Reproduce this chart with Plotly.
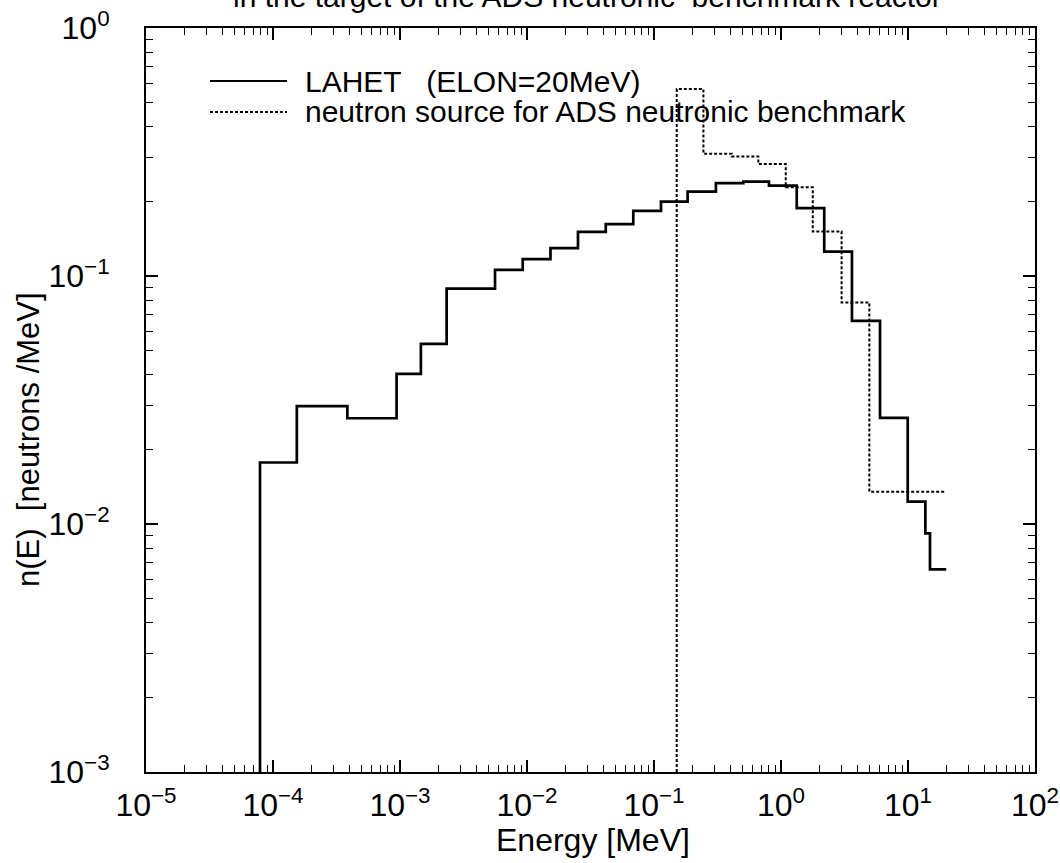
import plotly.graph_objects as go

# LAHET (ELON=20MeV) spectrum: bin edges [MeV] and bin contents [neutrons/MeV]
lahet_edges = [7.9e-5, 1.54e-4, 3.85e-4, 9.4e-4, 1.46e-3, 2.33e-3, 5.6e-3, 9.25e-3,
               1.53e-2, 2.52e-2, 4.17e-2, 6.87e-2, 0.1135, 0.184, 0.307, 0.505,
               0.804, 1.33, 2.19, 3.62, 6.02, 9.95, 13.7, 14.9, 20.0]
lahet_values = [0.0177, 0.0299, 0.0267, 0.0403, 0.0532, 0.089, 0.1058, 0.117,
                0.1295, 0.1507, 0.1618, 0.1832, 0.1996, 0.219, 0.2368, 0.2404,
                0.2316, 0.1877, 0.1254, 0.0659, 0.0268, 0.0123, 0.00917, 0.00656]

# Neutron source for the ADS neutronic benchmark
src_edges = [0.151, 0.245, 0.409, 0.663, 1.09, 1.78, 3.0, 4.96, 20.0]
src_values = [0.567, 0.311, 0.303, 0.2826, 0.228, 0.151, 0.0781, 0.01349]

y_floor = 1e-3  # histograms rise from the lower edge of the frame

x_tick_exp = [-5, -4, -3, -2, -1, 0, 1, 2]
y_tick_exp = [-3, -2, -1, 0]


def step_path(edges, values, floor):
    xs = [edges[0]]
    ys = [floor]
    for i, v in enumerate(values):
        xs += [edges[i], edges[i + 1]]
        ys += [v, v]
    return xs, ys


def power_label(e):
    sign = "\u2212" if e < 0 else ""
    return f"10<sup>{sign}{abs(e)}</sup>"


FONT = "Liberation Sans, Arial, sans-serif"

lx, ly = step_path(lahet_edges, lahet_values, y_floor)
sx, sy = step_path(src_edges, src_values, y_floor)

fig = go.Figure()
fig.add_trace(go.Scatter(x=lx, y=ly, mode="lines", name="LAHET   (ELON=20MeV)",
                         line=dict(color="black", width=2.7), showlegend=False))
fig.add_trace(go.Scatter(x=sx, y=sy, mode="lines",
                         name="neutron source for ADS neutronic benchmark",
                         line=dict(color="black", width=2, dash="3px,2px"),
                         showlegend=False))

W, H = 1060, 863
L, R, T, B = 146, 25, 28, 91
pw, ph = W - L - R, H - T - B


def px(x):
    return (x - L) / pw


def py(y):
    return (H - B - y) / ph


# legend drawn in the upper-left corner of the frame
fig.add_shape(type="line", xref="paper", yref="paper", x0=px(210), x1=px(287),
              y0=py(81), y1=py(81), line=dict(color="black", width=2.2))
fig.add_shape(type="line", xref="paper", yref="paper", x0=px(210), x1=px(287),
              y0=py(112), y1=py(112), line=dict(color="black", width=2, dash="3px,2px"))
fig.add_annotation(xref="paper", yref="paper", x=px(303), y=py(81), xanchor="left",
                   yanchor="middle", text="LAHET   (ELON=20MeV)", showarrow=False,
                   font=dict(family=FONT, size=30, color="black"))
fig.add_annotation(xref="paper", yref="paper", x=px(303), y=py(111), xanchor="left",
                   yanchor="middle", text="neutron source for ADS neutronic benchmark",
                   showarrow=False, font=dict(family=FONT, size=30, color="black"))

# title line running off the top edge
fig.add_annotation(xref="paper", yref="paper", x=px(587), y=py(-4), xanchor="center",
                   yanchor="middle", text="in the target of the ADS neutronic  benchmark reactor",
                   showarrow=False, font=dict(family=FONT, size=30, color="black"))

# axis titles
fig.add_annotation(xref="paper", yref="paper", x=px(593), y=py(840), xanchor="center",
                   yanchor="middle", text="Energy [MeV]", showarrow=False,
                   font=dict(family=FONT, size=32, color="black"))
fig.add_annotation(xref="paper", yref="paper", x=px(29), y=py(440), xanchor="center",
                   yanchor="middle", text="n(E)  [neutrons /MeV]", textangle=-90,
                   showarrow=False, font=dict(family=FONT, size=31, color="black"))

axis_common = dict(
    type="log", showgrid=False, zeroline=False, showline=True, linecolor="black",
    linewidth=2, mirror="ticks", ticks="inside", ticklen=12, tickwidth=1.5,
    tickcolor="black",
    tickfont=dict(family=FONT, size=32, color="black"),
    minor=dict(ticks="inside", ticklen=7, tickwidth=1.3, tickcolor="black",
               dtick="D1", showgrid=False),
)

fig.update_xaxes(range=[-5, 2], tickvals=[10.0 ** e for e in x_tick_exp],
                 ticktext=[power_label(e) for e in x_tick_exp],
                 ticklabelstandoff=4, **axis_common)
fig.update_yaxes(range=[-3, 0], tickvals=[10.0 ** e for e in y_tick_exp],
                 ticktext=[power_label(e) for e in y_tick_exp],
                 ticklabelstandoff=28, **axis_common)

fig.update_layout(
    width=W, height=H, margin=dict(l=L, r=R, t=T, b=B, autoexpand=False),
    paper_bgcolor="white", plot_bgcolor="white",
    font=dict(family=FONT, color="black"),
)

fig.write_html("out.html")
